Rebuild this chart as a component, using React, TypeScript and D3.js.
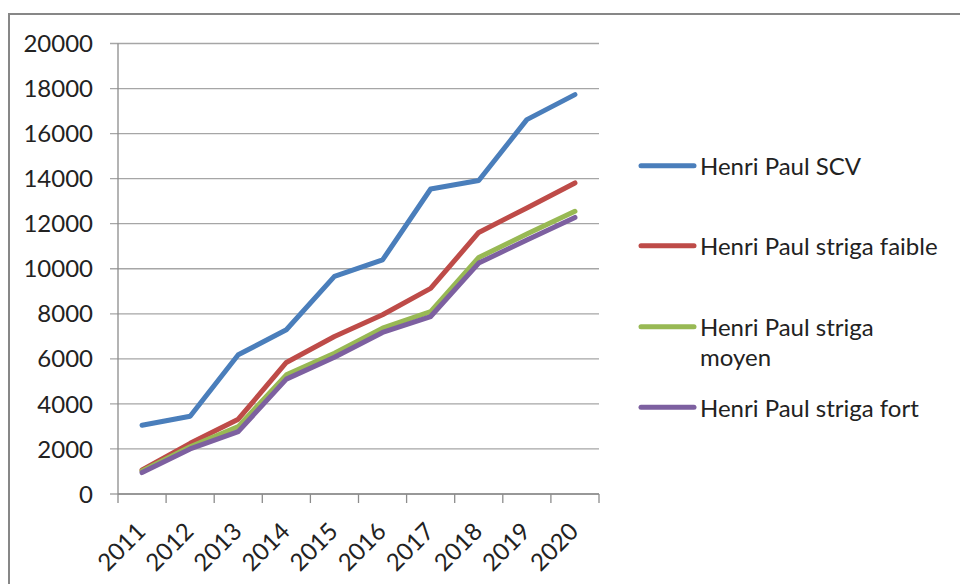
import React from "react";
import * as d3 from "d3";

const years = ["2011", "2012", "2013", "2014", "2015", "2016", "2017", "2018", "2019", "2020"];
const yTicks = [0, 2000, 4000, 6000, 8000, 10000, 12000, 14000, 16000, 18000, 20000];

const scv = [3050, 3450, 6180, 7290, 9660, 10390, 13540, 13920, 16620, 17730];
const faible = [1070, 2250, 3320, 5840, 6990, 7960, 9130, 11610, 12700, 13810];
const moyen = [1020, 2100, 2990, 5290, 6250, 7360, 8100, 10500, 11540, 12550];
const fort = [950, 2000, 2770, 5100, 6070, 7170, 7880, 10250, 11280, 12280];

const seriesNames = [
  ["Henri Paul SCV"],
  ["Henri Paul striga faible"],
  ["Henri Paul striga", "moyen"],
  ["Henri Paul striga fort"],
];
const seriesValues = [scv, faible, moyen, fort];
const colors = ["#4a7ebb", "#be4b48", "#98b954", "#7d60a0"];

const FONT = "Lato, 'Open Sans', sans-serif";

export default function App() {
  const W = 960;
  const H = 584;
  const x = d3.scaleBand<string>().domain(years).range([118, 599]).padding(0);
  const y = d3.scaleLinear().domain([0, 20000]).range([494, 43.5]);
  const line = d3
    .line<number>()
    .x((_, i) => (x(years[i]) as number) + x.bandwidth() / 2)
    .y((d) => y(d));

  const legendY = [165.7, 245.7, 326.7, 407.3];
  const boundaries = d3.range(years.length + 1).map((k) => 118 + k * x.step());

  return (
    <svg
      width={W}
      height={H}
      style={{ position: "absolute", left: 0, top: 0, background: "#fff" }}
      fontFamily={FONT}
    >
      <rect x={0} y={0} width={W} height={H} fill="#fff" />
      <path d={`M9,${H} V14 H${W}`} fill="none" stroke="#878787" strokeWidth={2} />

      {yTicks.map((t) => (
        <g key={t}>
          <line x1={110} x2={599} y1={y(t)} y2={y(t)} stroke="#a6a6a6" strokeWidth={1.3} />
          <text x={93} y={y(t)} dy="0.36em" textAnchor="end" fontSize={24} fill="#222">
            {t}
          </text>
        </g>
      ))}
      <line x1={118} x2={118} y1={y(20000)} y2={y(0)} stroke="#8c8c8c" strokeWidth={1.3} />
      <line x1={118} x2={599} y1={y(0)} y2={y(0)} stroke="#8c8c8c" strokeWidth={1.3} />
      {boundaries.map((bx, k) => (
        <line key={k} x1={bx} x2={bx} y1={y(0)} y2={y(0) + 9} stroke="#8c8c8c" strokeWidth={1.3} />
      ))}
      {years.map((yr) => {
        const cx = (x(yr) as number) + x.bandwidth() / 2 + 5;
        return (
          <text
            key={yr}
            transform={`translate(${cx},533) rotate(-45)`}
            textAnchor="end"
            fontSize={24}
            fill="#222"
          >
            {yr}
          </text>
        );
      })}

      {seriesValues.map((vals, i) => (
        <path
          key={i}
          d={line(vals) || ""}
          fill="none"
          stroke={colors[i]}
          strokeWidth={5}
          strokeLinejoin="round"
          strokeLinecap="round"
        />
      ))}

      {seriesNames.map((lines, i) => (
        <g key={i}>
          <line
            x1={641}
            x2={694}
            y1={legendY[i]}
            y2={legendY[i]}
            stroke={colors[i]}
            strokeWidth={5}
            strokeLinecap="round"
          />
          {lines.map((ln, j) => (
            <text key={j} x={700} y={legendY[i] + 9.3 + j * 30} fontSize={24} fill="#222">
              {ln}
            </text>
          ))}
        </g>
      ))}
    </svg>
  );
}
